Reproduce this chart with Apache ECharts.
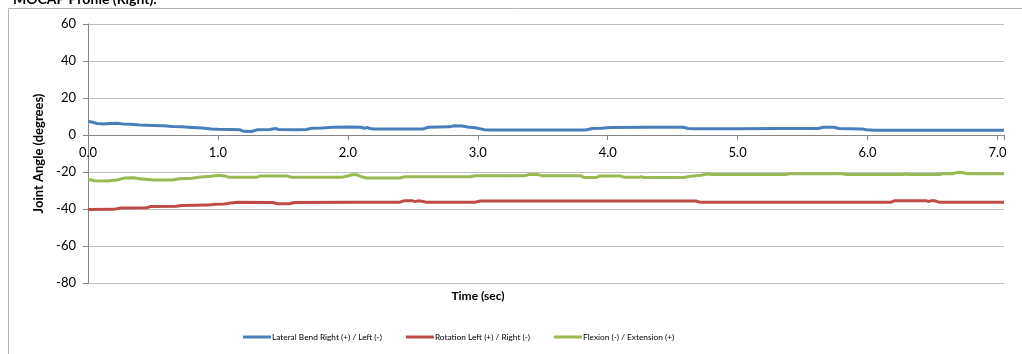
<!DOCTYPE html>
<html>
<head>
<meta charset="utf-8">
<script src="https://cdn.jsdelivr.net/npm/echarts@6/dist/echarts.min.js"></script>
<style>
html,body{margin:0;padding:0;background:#fff;}
#chart{width:1022px;height:354px;}
</style>
</head>
<body>
<div id="chart"></div>
<script>
// ---- data ----
const seriesNames = [
  'Lateral Bend Right (+) / Left (-)',
  'Rotation Left (+) / Right (-)',
  'Flexion (-) / Extension (+)'
];
const yTicks = [-80, -60, -40, -20, 0, 20, 40, 60];
const xTicks = [0, 1, 2, 3, 4, 5, 6, 7];

const lateralTime = [0.00,0.03,0.07,0.12,0.17,0.22,0.27,0.33,0.40,0.50,0.58,0.65,0.72,0.80,0.88,0.95,1.00,1.10,1.17,1.20,1.26,1.30,1.40,1.44,1.47,1.60,1.68,1.72,1.80,1.88,2.00,2.10,2.13,2.15,2.17,2.20,2.40,2.58,2.62,2.78,2.82,2.88,2.92,2.98,3.05,3.10,3.50,3.83,3.88,3.95,4.02,4.30,4.58,4.62,4.66,5.00,5.30,5.62,5.66,5.74,5.78,5.96,5.99,6.05,7.05];
const lateralVal  = [7.3,7.0,6.2,5.9,6.2,6.4,6.0,5.8,5.4,5.2,5.0,4.6,4.4,4.1,3.8,3.3,3.1,3.0,2.8,2.0,1.9,2.8,3.0,3.5,3.0,2.9,3.0,3.6,3.8,4.2,4.3,4.2,3.6,4.1,3.5,3.3,3.3,3.3,4.2,4.4,5.0,4.9,4.3,3.9,2.9,2.7,2.7,2.7,3.5,3.7,4.1,4.2,4.2,3.5,3.4,3.4,3.5,3.5,4.2,4.2,3.5,3.3,2.8,2.6,2.6];

const rotationTime = [0.00,0.20,0.25,0.45,0.48,0.68,0.72,0.92,0.98,1.05,1.10,1.15,1.42,1.46,1.55,1.59,2.00,2.40,2.43,2.50,2.52,2.54,2.57,2.60,2.98,3.02,4.68,4.71,5.12,5.13,5.15,6.18,6.21,6.45,6.47,6.49,6.52,6.55,7.05];
const rotationVal  = [-40.3,-40.2,-39.5,-39.3,-38.7,-38.5,-38.1,-37.9,-37.4,-37.3,-36.7,-36.4,-36.5,-37.2,-37.2,-36.5,-36.3,-36.3,-35.6,-35.6,-36.0,-35.6,-35.8,-36.3,-36.3,-35.7,-35.7,-36.3,-36.3,-35.9,-36.3,-36.3,-35.5,-35.5,-36.0,-35.5,-35.6,-36.3,-36.3];

const flexionTime = [0.00,0.05,0.15,0.22,0.28,0.35,0.40,0.50,0.65,0.70,0.80,0.87,0.95,1.00,1.05,1.08,1.30,1.33,1.53,1.57,1.95,2.00,2.03,2.07,2.10,2.14,2.40,2.44,2.94,2.98,3.36,3.40,3.46,3.49,3.79,3.82,3.91,3.94,4.10,4.13,4.24,4.26,4.28,4.58,4.66,4.72,4.76,4.80,5.37,5.40,5.80,5.84,6.28,6.30,6.32,6.55,6.58,6.66,6.69,6.73,6.76,7.05];
const flexionVal  = [-23.9,-24.7,-24.9,-24.3,-23.3,-23.1,-23.7,-24.3,-24.3,-23.7,-23.4,-22.7,-22.3,-21.8,-22.1,-22.8,-22.8,-22.1,-22.1,-22.9,-22.9,-22.2,-21.5,-21.5,-22.4,-23.2,-23.2,-22.6,-22.6,-22.0,-22.0,-21.3,-21.3,-22.0,-22.0,-23.0,-23.0,-22.1,-22.2,-22.9,-22.9,-22.5,-23.0,-23.0,-22.1,-21.8,-21.1,-21.4,-21.4,-20.9,-20.9,-21.4,-21.4,-21.1,-21.4,-21.4,-21.0,-20.9,-20.2,-20.3,-20.9,-21.0];

const colors = ['#4a7ebb', '#be4b48', '#98b954'];

function pairs(t, v) { return t.map((x, i) => [x, v[i]]); }

const chart = echarts.init(document.getElementById('chart'), null, {renderer: 'canvas'});
const FONT = 'Lato, "Open Sans", sans-serif';

const GRID_TOP = 24, GRID_BOTTOM = 71, H = 354;
const plotH = H - GRID_TOP - GRID_BOTTOM;
const yMin = yTicks[0], yMax = yTicks[yTicks.length - 1];
// shift the x axis (line + labels) up to the y = 0 level
const xOffset = -plotH * (0 - yMin) / (yMax - yMin);

chart.setOption({
  animation: false,
  backgroundColor: '#fff',
  color: colors,
  grid: {left: 88, right: 18, top: GRID_TOP, bottom: GRID_BOTTOM, containLabel: false},
  graphic: [
    {type: 'rect', shape: {x: 8.5, y: 8.5, width: 1100, height: 500},
     style: {fill: 'none', stroke: '#b3b3b3', lineWidth: 1}, silent: true, z: -10},
    {type: 'text', left: 13, top: -8,
     style: {text: 'MOCAP Profile (Right):', font: 'bold 14px ' + FONT, fill: '#000'}},
    {type: 'text', x: 478, y: 296,
     style: {text: 'Time (sec)', font: 'bold 12px ' + FONT, fill: '#000', align: 'center', verticalAlign: 'middle'}}
  ],
  legend: {
    left: 243, top: 333, padding: 0,
    icon: 'rect', itemWidth: 28, itemGap: 24, itemHeight: 3,
    textStyle: {fontSize: 8.3, fontFamily: FONT, color: '#000', padding: [0, 0, 0, -4]},
    data: seriesNames
  },
  xAxis: {
    type: 'value', min: 0, max: 7.05, interval: 1,
    offset: xOffset,
    axisLine: {onZero: false, lineStyle: {color: '#868686', width: 1}},
    axisTick: {show: true, length: 5, lineStyle: {color: '#868686'}},
    splitLine: {show: false},
    axisLabel: {
      fontSize: 13, fontFamily: FONT, color: '#000', margin: 11,
      formatter: v => xTicks.indexOf(Math.round(v * 100) / 100) >= 0 ? v.toFixed(1) : ''
    }
  },
  yAxis: {
    type: 'value', min: yMin, max: yMax, interval: 20,
    name: 'Joint Angle (degrees)', nameLocation: 'middle', nameGap: 41,
    nameTextStyle: {fontSize: 13, fontWeight: 'bold', fontFamily: FONT, color: '#000'},
    axisLine: {show: true, onZero: false, lineStyle: {color: '#868686', width: 1}},
    axisTick: {show: true, length: 5, lineStyle: {color: '#868686'}},
    splitLine: {show: true, lineStyle: {color: '#bfbfbf', width: 1}},
    axisLabel: {fontSize: 13, fontFamily: FONT, color: '#000', margin: 12}
  },
  series: [
    {name: seriesNames[0], type: 'line', data: pairs(lateralTime, lateralVal), showSymbol: false, symbol: 'none', lineStyle: {width: 3}},
    {name: seriesNames[1], type: 'line', data: pairs(rotationTime, rotationVal), showSymbol: false, symbol: 'none', lineStyle: {width: 3}},
    {name: seriesNames[2], type: 'line', data: pairs(flexionTime, flexionVal), showSymbol: false, symbol: 'none', lineStyle: {width: 3}}
  ]
});
</script>
</body>
</html>
